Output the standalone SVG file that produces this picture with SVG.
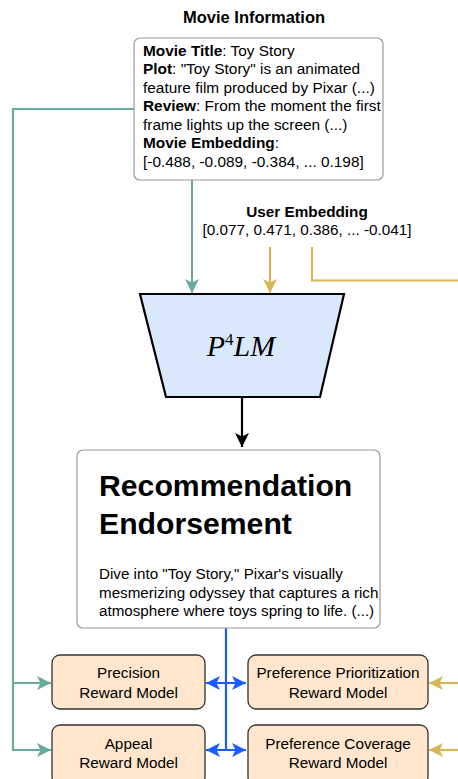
<svg xmlns="http://www.w3.org/2000/svg" width="458" height="779" viewBox="0 0 458 779">
<style>
text{font-family:"Liberation Sans",Arial,sans-serif;fill:#000}
.t14{font-size:15.3px}
.mv{font-size:15.4px}
.b{font-weight:bold}
.mid{text-anchor:middle}
.card{fill:#fff;stroke:#999;stroke-width:1.2}
.rm{fill:#ffe6cc;stroke:#333;stroke-width:1.3}
.g{stroke:#67ab9f;stroke-width:2.2;fill:none}
.y{stroke:#d6b656;stroke-width:2.2;fill:none}
.bl{stroke:#1a5cff;stroke-width:2.2;fill:none}
.k{stroke:#000;stroke-width:2.2;fill:none}
</style>
<defs>
<marker id="ag" markerUnits="userSpaceOnUse" markerWidth="14" markerHeight="14" viewBox="0 0 12 12" refX="12" refY="6" orient="auto"><path d="M0,0 L12,6 L0,12 L3,6 Z" fill="#67ab9f"/></marker>
<marker id="ay" markerUnits="userSpaceOnUse" markerWidth="14" markerHeight="14" viewBox="0 0 12 12" refX="12" refY="6" orient="auto"><path d="M0,0 L12,6 L0,12 L3,6 Z" fill="#d6b656"/></marker>
<marker id="ab" markerUnits="userSpaceOnUse" markerWidth="14" markerHeight="14" viewBox="0 0 12 12" refX="12" refY="6" orient="auto-start-reverse"><path d="M0,0 L12,6 L0,12 L3,6 Z" fill="#1a5cff"/></marker>
<marker id="ak" markerUnits="userSpaceOnUse" markerWidth="14" markerHeight="14" viewBox="0 0 12 12" refX="12" refY="6" orient="auto"><path d="M0,0 L12,6 L0,12 L3,6 Z" fill="#000"/></marker>
</defs>

<g id="connectors">
<path class="g" d="M134,109 H13 V750 H51" marker-end="url(#ag)"/>
<path class="g" d="M13,683 H51" marker-end="url(#ag)"/>
<path class="g" d="M192,180 V293" marker-end="url(#ag)"/>
<path class="y" d="M270,247 V293" marker-end="url(#ay)"/>
<path class="y" d="M312,247 V280.5 H458"/>
<path class="y" d="M458,683 H429" marker-end="url(#ay)"/>
<path class="y" d="M458,750 H429" marker-end="url(#ay)"/>
<path class="k" d="M242,397 V447" marker-end="url(#ak)"/>
<path class="bl" d="M226,628 V750"/>
<path class="bl" d="M206,683 H246" marker-start="url(#ab)" marker-end="url(#ab)"/>
<path class="bl" d="M206,750 H246" marker-start="url(#ab)" marker-end="url(#ab)"/>
</g>

<g id="movie-info">
<text class="b mid" x="254" y="23" style="font-size:16.5px">Movie Information</text>
<rect class="card" x="134" y="38" width="249" height="142" rx="6"/>
<text class="mv" x="143" y="55.5"><tspan class="b">Movie Title</tspan>: Toy Story</text>
<text class="mv" x="143" y="74"><tspan class="b">Plot</tspan>: "Toy Story" is an animated</text>
<text class="mv" x="143" y="92.5">feature film produced by Pixar (...)</text>
<text class="mv" x="143" y="111"><tspan class="b">Review</tspan>: From the moment the first</text>
<text class="mv" x="143" y="129.5">frame lights up the screen (...)</text>
<text class="mv" x="143" y="148"><tspan class="b">Movie Embedding</tspan>:</text>
<text class="mv" x="143" y="166.5">[-0.488, -0.089, -0.384, ... 0.198]</text>
</g>

<g id="user-embedding">
<text class="t14 b mid" x="307" y="217">User Embedding</text>
<text class="t14 mid" x="307" y="235">[0.077, 0.471, 0.386, ... -0.041]</text>
</g>

<g id="p4lm">
<polygon points="140,294 344,294 320,397 166,397" fill="#dae8fc" stroke="#000" stroke-width="2.2"/>
<text x="241" y="356" text-anchor="middle" style="font-family:'Liberation Serif','Times New Roman',serif;font-size:30px;font-style:italic">P<tspan style="font-style:normal;font-size:17px" dy="-11">4</tspan><tspan dy="11">LM</tspan></text>
</g>

<g id="recommendation">
<rect class="card" x="77" y="450" width="303" height="178" rx="6"/>
<text class="b" x="99" y="496" style="font-size:30.2px">Recommendation</text>
<text class="b" x="99" y="534" style="font-size:30.2px">Endorsement</text>
<text x="99" y="579" style="font-size:15.2px">Dive into "Toy Story," Pixar's visually</text>
<text x="99" y="597.5" style="font-size:15.2px">mesmerizing odyssey that captures a rich</text>
<text x="99" y="616" style="font-size:15.2px">atmosphere where toys spring to life. (...)</text>
</g>

<g id="precision-rm">
<rect class="rm" x="52" y="655" width="153" height="54" rx="8"/>
<text class="t14 mid" x="128.5" y="678">Precision</text>
<text class="t14 mid" x="128.5" y="698">Reward Model</text>
</g>
<g id="appeal-rm">
<rect class="rm" x="52" y="725" width="153" height="60" rx="8"/>
<text class="t14 mid" x="128.5" y="749">Appeal</text>
<text class="t14 mid" x="128.5" y="768">Reward Model</text>
</g>
<g id="pref-prior-rm">
<rect class="rm" x="248" y="655" width="180" height="54" rx="8"/>
<text class="t14 mid" x="338" y="678">Preference Prioritization</text>
<text class="t14 mid" x="338" y="698">Reward Model</text>
</g>
<g id="pref-cov-rm">
<rect class="rm" x="248" y="725" width="180" height="60" rx="8"/>
<text class="t14 mid" x="338" y="749">Preference Coverage</text>
<text class="t14 mid" x="338" y="768">Reward Model</text>
</g>
</svg>
